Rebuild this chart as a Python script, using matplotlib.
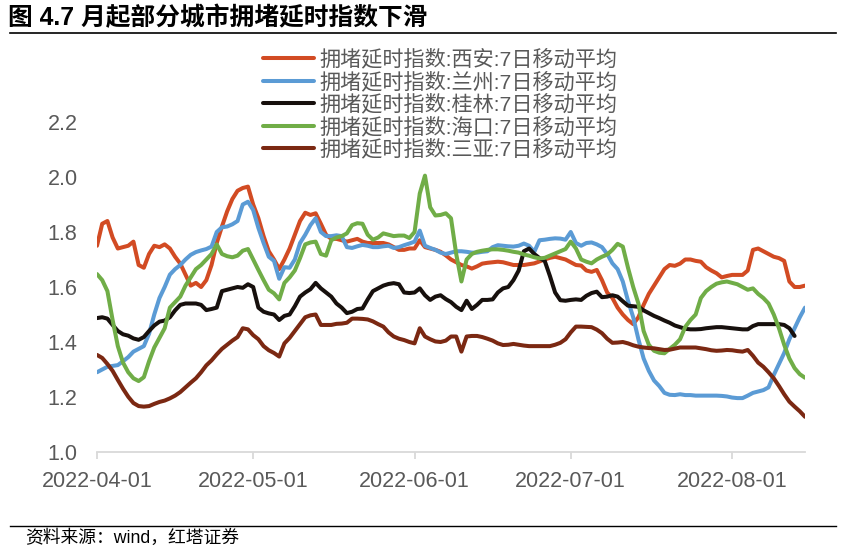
import numpy as np
import pandas as pd
import matplotlib
matplotlib.use("Agg")
import matplotlib.pyplot as plt
import matplotlib.dates as mdates

# daily 7-day moving average of the congestion delay index, 2022-04-01 .. 2022-08-15
dates = pd.date_range("2022-04-01", "2022-08-15", freq="D")

xian = [
    1.75, 1.83, 1.84, 1.78, 1.74, 1.745, 1.75, 1.765, 1.68, 1.67,
    1.72, 1.75, 1.745, 1.755, 1.74, 1.71, 1.685, 1.645, 1.605, 1.615,
    1.60, 1.625, 1.68, 1.76, 1.82, 1.875, 1.92, 1.95, 1.96, 1.965,
    1.90, 1.85, 1.785, 1.73, 1.70, 1.665, 1.70, 1.74, 1.79, 1.84,
    1.87, 1.862, 1.868, 1.83, 1.79, 1.775, 1.775, 1.77, 1.765, 1.77,
    1.775, 1.765, 1.76, 1.76, 1.76, 1.76, 1.755, 1.745, 1.735, 1.735,
    1.74, 1.74, 1.77, 1.745, 1.74, 1.735, 1.728, 1.715, 1.70, 1.69,
    1.68, 1.675, 1.667, 1.675, 1.685, 1.688, 1.69, 1.692, 1.69, 1.685,
    1.68, 1.68, 1.68, 1.683, 1.686, 1.693, 1.70, 1.706, 1.71, 1.705,
    1.70, 1.69, 1.68, 1.678, 1.66, 1.655, 1.662, 1.625, 1.58, 1.56,
    1.525, 1.50, 1.48, 1.465, 1.49, 1.535, 1.575, 1.605, 1.635, 1.665,
    1.68, 1.677, 1.685, 1.70, 1.70, 1.695, 1.692, 1.672, 1.66, 1.65,
    1.635, 1.64, 1.644, 1.644, 1.644, 1.66, 1.735, 1.74, 1.73, 1.72,
    1.71, 1.705, 1.695, 1.62, 1.60, 1.60, 1.605,
]
lanzhou = [
    1.29, 1.30, 1.31, 1.313, 1.316, 1.33, 1.345, 1.365, 1.375, 1.385,
    1.43, 1.50, 1.56, 1.60, 1.645, 1.665, 1.68, 1.70, 1.717, 1.727,
    1.733, 1.738, 1.747, 1.80, 1.817, 1.82, 1.828, 1.84, 1.90, 1.91,
    1.88, 1.815, 1.76, 1.71, 1.695, 1.63, 1.672, 1.67, 1.70, 1.76,
    1.79, 1.825, 1.85, 1.80, 1.785, 1.785, 1.788, 1.785, 1.745, 1.742,
    1.748, 1.753, 1.75, 1.745, 1.745, 1.748, 1.75, 1.742, 1.745, 1.752,
    1.758, 1.765, 1.805, 1.75, 1.742, 1.735, 1.725, 1.72, 1.725, 1.73,
    1.73, 1.728, 1.725, 1.725, 1.728, 1.73, 1.745, 1.752, 1.75, 1.748,
    1.747, 1.75, 1.758, 1.75, 1.728, 1.77, 1.772, 1.775, 1.777, 1.776,
    1.772, 1.80, 1.76, 1.75, 1.76, 1.762, 1.755, 1.745, 1.72, 1.686,
    1.665, 1.62, 1.55, 1.49, 1.41, 1.34, 1.295, 1.26, 1.24, 1.215,
    1.208, 1.207, 1.21, 1.207, 1.207, 1.205, 1.205, 1.205, 1.205, 1.205,
    1.204, 1.202, 1.198, 1.196, 1.196, 1.205, 1.215, 1.22, 1.225, 1.235,
    1.28, 1.32, 1.36, 1.41, 1.45, 1.49, 1.525,
]
guilin = [
    1.487, 1.49, 1.485, 1.462, 1.44, 1.428, 1.423, 1.413, 1.408, 1.418,
    1.44, 1.46, 1.474, 1.478, 1.49, 1.515, 1.535, 1.54, 1.54, 1.54,
    1.535, 1.516, 1.52, 1.525, 1.585, 1.59, 1.595, 1.60, 1.597, 1.61,
    1.60, 1.525, 1.51, 1.504, 1.50, 1.48, 1.495, 1.50, 1.53, 1.565,
    1.58, 1.592, 1.615, 1.595, 1.58, 1.565, 1.54, 1.525, 1.505, 1.51,
    1.52, 1.522, 1.555, 1.585, 1.595, 1.605, 1.611, 1.614, 1.61, 1.58,
    1.578, 1.58, 1.595, 1.57, 1.553, 1.565, 1.57, 1.556, 1.545, 1.528,
    1.516, 1.55, 1.52, 1.535, 1.553, 1.553, 1.555, 1.58, 1.595, 1.60,
    1.625, 1.66, 1.73, 1.74, 1.72, 1.705, 1.695, 1.64, 1.58, 1.552,
    1.55, 1.553, 1.555, 1.553, 1.568, 1.578, 1.583, 1.563, 1.565, 1.57,
    1.565, 1.548, 1.532, 1.53, 1.528, 1.515, 1.505, 1.495, 1.487, 1.478,
    1.47, 1.46, 1.454, 1.448, 1.446, 1.446, 1.447, 1.45, 1.452, 1.454,
    1.454, 1.452, 1.45, 1.448, 1.446, 1.446, 1.458, 1.465, 1.465, 1.465,
    1.465, 1.465, 1.462, 1.45, 1.422, np.nan, np.nan,
]
haikou = [
    1.647, 1.625, 1.585, 1.48, 1.385, 1.325, 1.29, 1.268, 1.258, 1.272,
    1.33, 1.38, 1.415, 1.45, 1.525, 1.545, 1.565, 1.605, 1.635, 1.665,
    1.68, 1.70, 1.72, 1.755, 1.72, 1.712, 1.708, 1.714, 1.732, 1.738,
    1.70, 1.662, 1.625, 1.59, 1.577, 1.555, 1.615, 1.635, 1.66, 1.705,
    1.755, 1.762, 1.765, 1.72, 1.714, 1.77, 1.78, 1.785, 1.795, 1.825,
    1.832, 1.83, 1.79, 1.772, 1.78, 1.795, 1.79, 1.785, 1.787, 1.787,
    1.778, 1.80, 1.94, 2.005, 1.89, 1.86, 1.862, 1.868, 1.85, 1.72,
    1.62, 1.70, 1.72, 1.728, 1.732, 1.735, 1.737, 1.737, 1.735, 1.732,
    1.728, 1.725, 1.718, 1.714, 1.708, 1.704, 1.706, 1.714, 1.722, 1.73,
    1.738, 1.765, 1.74, 1.70, 1.692, 1.686, 1.70, 1.71, 1.718, 1.735,
    1.757, 1.747, 1.67, 1.60, 1.54, 1.44, 1.39, 1.368, 1.361, 1.359,
    1.375, 1.39, 1.41, 1.455, 1.48, 1.50, 1.56, 1.585, 1.60, 1.612,
    1.617, 1.62, 1.615, 1.61, 1.60, 1.59, 1.595, 1.575, 1.56, 1.54,
    1.50, 1.45, 1.39, 1.34, 1.305, 1.283, 1.27,
]
sanya = [
    1.353, 1.342, 1.32, 1.295, 1.262, 1.23, 1.201, 1.178, 1.167, 1.165,
    1.167, 1.175, 1.182, 1.187, 1.195, 1.205, 1.218, 1.235, 1.252, 1.268,
    1.29, 1.315, 1.333, 1.355, 1.375, 1.39, 1.405, 1.418, 1.45, 1.446,
    1.425, 1.41, 1.385, 1.37, 1.36, 1.347, 1.395, 1.415, 1.44, 1.465,
    1.49, 1.497, 1.50, 1.462, 1.462, 1.462, 1.466, 1.467, 1.47, 1.485,
    1.485, 1.484, 1.482, 1.475, 1.465, 1.456, 1.435, 1.42, 1.412, 1.407,
    1.40, 1.395, 1.45, 1.42, 1.41, 1.402, 1.40, 1.405, 1.42, 1.42,
    1.365, 1.42, 1.422, 1.422, 1.418, 1.412, 1.405, 1.395, 1.389, 1.39,
    1.393, 1.39, 1.387, 1.385, 1.385, 1.385, 1.385, 1.385, 1.39, 1.397,
    1.41, 1.435, 1.456, 1.456, 1.455, 1.454, 1.445, 1.432, 1.412, 1.397,
    1.398, 1.40, 1.395, 1.388, 1.383, 1.38, 1.378, 1.377, 1.374, 1.371,
    1.372, 1.376, 1.38, 1.38, 1.38, 1.38, 1.377, 1.374, 1.37, 1.368,
    1.369, 1.371, 1.37, 1.367, 1.365, 1.371, 1.35, 1.325, 1.31, 1.29,
    1.268, 1.24, 1.21, 1.183, 1.165, 1.148, 1.128,
]

labels = [
    "拥堵延时指数:西安:7日移动平均",
    "拥堵延时指数:兰州:7日移动平均",
    "拥堵延时指数:桂林:7日移动平均",
    "拥堵延时指数:海口:7日移动平均",
    "拥堵延时指数:三亚:7日移动平均",
]
colors = ["#D24B23", "#5B9BD5", "#17100D", "#70AD47", "#7B2812"]
month_ticks = pd.to_datetime(["2022-04-01", "2022-05-01", "2022-06-01",
                              "2022-07-01", "2022-08-01"])

plt.rcParams["font.family"] = ["Liberation Sans", "Noto Sans CJK SC", "DejaVu Sans"]

W, H = 846, 558
fig = plt.figure(figsize=(W / 100, H / 100), dpi=100)
fig.patch.set_facecolor("white")

# plot area in pixels: x 97..805, y(1.0)=452, y(2.4)=67
ax = fig.add_axes([97 / W, (H - 452) / H, 708 / W, 385 / H])

for vals, lab, col in zip([xian, lanzhou, guilin, haikou, sanya], labels, colors):
    ax.plot(dates, vals, color=col, lw=2.9, label=lab,
            solid_capstyle="round", solid_joinstyle="round")

ax.set_xlim(dates[0], dates[-1])
ax.set_ylim(1.0, 2.4)
ax.set_yticks([1.0, 1.2, 1.4, 1.6, 1.8, 2.0, 2.2])
ax.yaxis.set_major_formatter(matplotlib.ticker.FormatStrFormatter("%.1f"))
ax.set_xticks(month_ticks)
ax.xaxis.set_major_formatter(mdates.DateFormatter("%Y-%m-%d"))

for s in ["top", "right", "left"]:
    ax.spines[s].set_visible(False)
ax.spines["bottom"].set_color("#D9D9D9")
ax.spines["bottom"].set_linewidth(1.3)
ax.tick_params(axis="y", length=0, pad=14, labelsize=15.5, labelcolor="#595959")
ax.tick_params(axis="x", length=5, width=1.3, color="#D9D9D9", pad=9,
               labelsize=15.5, labelcolor="#595959")

leg = ax.legend(loc="upper left", bbox_to_anchor=(263 / W, 1 - 49 / H),
                bbox_transform=fig.transFigure, frameon=False, fontsize=15.2,
                handlelength=2.4, handletextpad=0.25, labelspacing=0.08,
                borderpad=0, borderaxespad=0)
for t in leg.get_texts():
    t.set_color("#595959")

# header and footer
fig.text(8 / W, 1 - 18 / H, "图 4.7 月起部分城市拥堵延时指数下滑", fontsize=17.8,
         fontweight="bold", va="center", ha="left")
fig.add_artist(plt.Line2D([10 / W, 836 / W], [1 - 33 / H, 1 - 33 / H],
                          color="black", lw=1.2))
fig.add_artist(plt.Line2D([10 / W, 836 / W], [1 - 526 / H, 1 - 526 / H],
                          color="black", lw=1.0))
fig.text(25 / W, 1 - 538 / H, "资料来源：wind，红塔证券", fontsize=12.8,
         va="center", ha="left")

fig.savefig("out.png", dpi=100)
